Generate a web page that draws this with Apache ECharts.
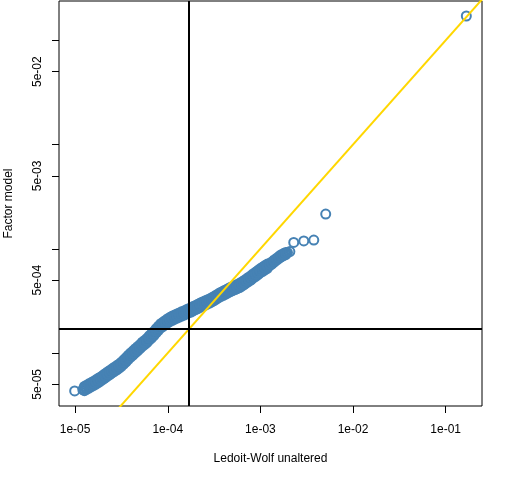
<!DOCTYPE html>
<html>
<head>
<meta charset="utf-8">
<script src="https://cdn.jsdelivr.net/npm/echarts@6/dist/echarts.min.js"></script>
<style>
  html, body { margin: 0; padding: 0; background: #fff; }
  #chart { width: 512px; height: 480px; }
</style>
</head>
<body>
<div id="chart"></div>
<script>
// Ledoit-Wolf unaltered (x) vs Factor model (y).
// The dense band: x positions along it, with its middle and its upper / lower side.
var lwBand = [
  1.26e-5, 1.33e-5, 1.41e-5, 1.50e-5, 1.59e-5, 1.68e-5, 1.78e-5, 1.88e-5, 2.00e-5, 2.11e-5,
  2.24e-5, 2.37e-5, 2.51e-5, 2.66e-5, 2.82e-5, 2.99e-5, 3.16e-5, 3.35e-5, 3.55e-5, 3.76e-5,
  3.98e-5, 4.22e-5, 4.47e-5, 4.73e-5, 5.01e-5, 5.31e-5, 5.62e-5, 5.96e-5, 6.31e-5, 6.68e-5,
  7.08e-5, 7.50e-5, 7.94e-5, 8.41e-5, 8.91e-5, 9.44e-5, 1.00e-4, 1.06e-4, 1.12e-4, 1.19e-4,
  1.26e-4, 1.33e-4, 1.41e-4, 1.50e-4, 1.59e-4, 1.68e-4, 1.78e-4, 1.88e-4, 2.00e-4, 2.11e-4,
  2.24e-4, 2.37e-4, 2.51e-4, 2.66e-4, 2.82e-4, 2.99e-4, 3.16e-4, 3.35e-4, 3.55e-4, 3.76e-4,
  3.98e-4, 4.22e-4, 4.47e-4, 4.73e-4, 5.01e-4, 5.31e-4, 5.62e-4, 5.96e-4, 6.31e-4, 6.68e-4,
  7.08e-4, 7.50e-4, 7.94e-4, 8.41e-4, 8.91e-4, 9.44e-4, 1.00e-3, 1.06e-3, 1.12e-3, 1.19e-3,
  1.26e-3, 1.33e-3, 1.41e-3, 1.50e-3, 1.59e-3, 1.68e-3, 1.78e-3, 1.88e-3
];
var factorBandMid = [
  4.56e-5, 4.69e-5, 4.83e-5, 4.97e-5, 5.13e-5, 5.28e-5, 5.46e-5, 5.62e-5, 5.83e-5, 6.04e-5,
  6.27e-5, 6.49e-5, 6.73e-5, 6.97e-5, 7.23e-5, 7.48e-5, 7.80e-5, 8.20e-5, 8.63e-5, 9.10e-5,
  9.57e-5, 1.00e-4, 1.05e-4, 1.10e-4, 1.15e-4, 1.21e-4, 1.26e-4, 1.32e-4, 1.39e-4, 1.46e-4,
  1.54e-4, 1.63e-4, 1.73e-4, 1.82e-4, 1.89e-4, 1.96e-4, 2.03e-4, 2.10e-4, 2.16e-4, 2.21e-4,
  2.26e-4, 2.31e-4, 2.37e-4, 2.42e-4, 2.48e-4, 2.54e-4, 2.59e-4, 2.66e-4, 2.73e-4, 2.80e-4,
  2.87e-4, 2.94e-4, 3.01e-4, 3.08e-4, 3.15e-4, 3.24e-4, 3.33e-4, 3.44e-4, 3.55e-4, 3.66e-4,
  3.75e-4, 3.85e-4, 3.95e-4, 4.06e-4, 4.15e-4, 4.25e-4, 4.34e-4, 4.45e-4, 4.58e-4, 4.74e-4,
  4.92e-4, 5.09e-4, 5.28e-4, 5.50e-4, 5.70e-4, 5.93e-4, 6.17e-4, 6.37e-4, 6.59e-4, 6.81e-4,
  7.05e-4, 7.31e-4, 7.62e-4, 7.94e-4, 8.28e-4, 8.57e-4, 8.79e-4, 9.02e-4
];
var factorBandUpper = [
  4.77e-5, 4.91e-5, 5.06e-5, 5.20e-5, 5.37e-5, 5.53e-5, 5.72e-5, 5.88e-5, 6.10e-5, 6.32e-5,
  6.57e-5, 6.80e-5, 7.05e-5, 7.30e-5, 7.57e-5, 7.83e-5, 8.17e-5, 8.59e-5, 9.04e-5, 9.53e-5,
  1.00e-4, 1.05e-4, 1.10e-4, 1.15e-4, 1.20e-4, 1.27e-4, 1.32e-4, 1.38e-4, 1.46e-4, 1.53e-4,
  1.61e-4, 1.71e-4, 1.81e-4, 1.91e-4, 1.98e-4, 2.05e-4, 2.13e-4, 2.20e-4, 2.26e-4, 2.31e-4,
  2.37e-4, 2.42e-4, 2.48e-4, 2.53e-4, 2.60e-4, 2.66e-4, 2.71e-4, 2.79e-4, 2.86e-4, 2.93e-4,
  3.01e-4, 3.08e-4, 3.15e-4, 3.23e-4, 3.30e-4, 3.39e-4, 3.49e-4, 3.60e-4, 3.72e-4, 3.83e-4,
  3.93e-4, 4.03e-4, 4.14e-4, 4.25e-4, 4.35e-4, 4.45e-4, 4.54e-4, 4.66e-4, 4.80e-4, 4.96e-4,
  5.15e-4, 5.33e-4, 5.53e-4, 5.76e-4, 5.97e-4, 6.21e-4, 6.46e-4, 6.67e-4, 6.90e-4, 7.13e-4,
  7.21e-4, 7.48e-4, 7.80e-4, 8.12e-4, 8.47e-4, 8.77e-4, 8.99e-4, 9.23e-4
];
var factorBandLower = [
  4.35e-5, 4.48e-5, 4.61e-5, 4.75e-5, 4.90e-5, 5.04e-5, 5.21e-5, 5.37e-5, 5.57e-5, 5.77e-5,
  5.99e-5, 6.20e-5, 6.43e-5, 6.66e-5, 6.90e-5, 7.14e-5, 7.45e-5, 7.83e-5, 8.24e-5, 8.69e-5,
  9.14e-5, 9.55e-5, 1.00e-4, 1.05e-4, 1.10e-4, 1.16e-4, 1.20e-4, 1.26e-4, 1.33e-4, 1.39e-4,
  1.47e-4, 1.56e-4, 1.65e-4, 1.74e-4, 1.80e-4, 1.87e-4, 1.94e-4, 2.01e-4, 2.06e-4, 2.11e-4,
  2.16e-4, 2.21e-4, 2.26e-4, 2.31e-4, 2.37e-4, 2.43e-4, 2.47e-4, 2.54e-4, 2.61e-4, 2.67e-4,
  2.74e-4, 2.81e-4, 2.87e-4, 2.94e-4, 3.01e-4, 3.09e-4, 3.18e-4, 3.29e-4, 3.39e-4, 3.50e-4,
  3.58e-4, 3.68e-4, 3.77e-4, 3.88e-4, 3.96e-4, 4.06e-4, 4.14e-4, 4.25e-4, 4.37e-4, 4.53e-4,
  4.70e-4, 4.86e-4, 5.04e-4, 5.25e-4, 5.44e-4, 5.66e-4, 5.89e-4, 6.08e-4, 6.29e-4, 6.50e-4,
  6.89e-4, 7.14e-4, 7.44e-4, 7.76e-4, 8.09e-4, 8.37e-4, 8.59e-4, 8.81e-4
];
// the single circles at both ends of the band and the outliers
var lwSingles = [9.89e-6, 1.21e-5, 1.96e-3, 2.08e-3, 2.29e-3, 2.94e-3, 3.77e-3, 5.07e-3, 0.167];
var factorSingles = [4.32e-5, 4.46e-5, 9.20e-4, 9.40e-4, 1.15e-3, 1.19e-3, 1.21e-3, 2.15e-3, 0.171];

var cutValue = 1.7e-4;           // black cross lines
var identityEnds = [1e-6, 1];    // y = x line
var xRange = [6.70e-6, 0.2466];
var yRange = [3.10e-5, 0.2382];
var xTicks = [1e-5, 1e-4, 1e-3, 1e-2, 1e-1];
var yTicks = [5e-5, 1e-4, 5e-4, 1e-3, 5e-3, 1e-2, 5e-2, 1e-1];
var yLabels = [5e-5, 5e-4, 5e-3, 5e-2];

var lg = function (v) { return Math.log10(v); };
var sci = function (v) {
  return Math.pow(10, v).toExponential(0).replace(/e([+-])(\d)$/, 'e$10$2');
};
var pairs = function (xs, ys) {
  return xs.map(function (x, i) { return [lg(x), lg(ys[i])]; });
};

var points = pairs(lwBand, factorBandLower)
  .concat(pairs(lwBand, factorBandUpper))
  .concat(pairs(lwBand, factorBandMid))
  .concat(pairs(lwSingles, factorSingles));
var identity = identityEnds.map(function (v) { return [lg(v), lg(v)]; });

var chart = echarts.init(document.getElementById('chart'));
var font = 'Liberation Sans, Arial, sans-serif';

chart.setOption({
  animation: false,
  backgroundColor: '#fff',
  grid: {
    left: 59, top: 1, right: 30, bottom: 74,
    containLabel: false, outerBoundsMode: 'none',
    show: true, borderColor: '#000', borderWidth: 1
  },
  xAxis: {
    type: 'value',
    min: lg(xRange[0]), max: lg(xRange[1]),
    name: 'Ledoit-Wolf unaltered',
    nameLocation: 'middle',
    nameGap: 47,
    nameTextStyle: { color: '#000', fontSize: 12, fontFamily: font },
    axisLine: { show: false },
    splitLine: { show: false },
    axisTick: {
      show: true, length: 7, lineStyle: { color: '#000', width: 1 },
      customValues: xTicks.map(lg)
    },
    axisLabel: {
      color: '#000', fontSize: 12, fontFamily: font, margin: 18,
      customValues: xTicks.map(lg), formatter: sci
    }
  },
  yAxis: {
    type: 'value',
    min: lg(yRange[0]), max: lg(yRange[1]),
    name: 'Factor model',
    nameLocation: 'middle',
    nameGap: 44,
    nameTextStyle: { color: '#000', fontSize: 12, fontFamily: font },
    axisLine: { show: false },
    splitLine: { show: false },
    axisTick: {
      show: true, length: 7, lineStyle: { color: '#000', width: 1 },
      customValues: yTicks.map(lg)
    },
    axisLabel: {
      color: '#000', fontSize: 12, fontFamily: font, margin: 15, rotate: 90,
      customValues: yLabels.map(lg), formatter: sci
    }
  },
  series: [
    {
      type: 'scatter',
      data: points,
      symbol: 'circle',
      symbolSize: 9,
      itemStyle: { color: 'rgba(0,0,0,0)', borderColor: '#4682B4', borderWidth: 2, opacity: 1 },
      silent: true
    },
    {
      type: 'line',
      data: identity,
      showSymbol: false,
      clip: true,
      lineStyle: { color: '#FFD700', width: 2 },
      silent: true,
      markLine: {
        silent: true,
        symbol: 'none',
        label: { show: false },
        lineStyle: { color: '#000', width: 2, type: 'solid' },
        data: [{ xAxis: lg(cutValue) }, { yAxis: lg(cutValue) }]
      }
    }
  ]
});
</script>
</body>
</html>
